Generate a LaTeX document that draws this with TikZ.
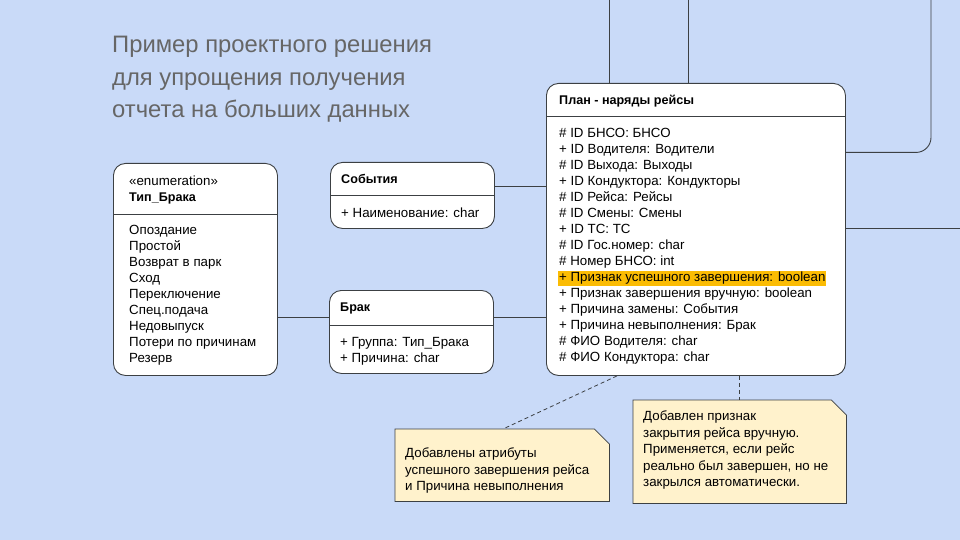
\documentclass[tikz,border=0pt]{standalone}
\usepackage{fontspec}
\setmainfont{Liberation Sans}
\usetikzlibrary{positioning, backgrounds}

\definecolor{bgblue}{HTML}{C9DAF8}
\definecolor{linegray}{HTML}{3C4043}
\definecolor{notefill}{HTML}{FFF2CC}
\definecolor{hilite}{HTML}{FBBC04}
\definecolor{titlegray}{HTML}{666666}

\tikzset{
  umlbox/.style={draw=linegray, fill=white, line width=0.9pt, rounded corners=12pt,
    anchor=north west, inner sep=0pt},
  boxhead/.style={font=\fontsize{12.6}{16}\selectfont\bfseries, anchor=west, inner sep=0pt,
    text height=9pt, text depth=2.5pt},
  boxtext/.style={font=\fontsize{13.3}{16}\selectfont, align=left, anchor=north west, inner sep=0pt},
  link/.style={draw=linegray, line width=0.9pt},
  notelink/.style={draw=linegray, line width=0.8pt, dash pattern=on 4pt off 3pt},
  noteshape/.style={fill=notefill, draw=linegray, line width=0.8pt},
  notetext/.style={anchor=north west, inner sep=0pt, align=left,
    font=\fontsize{13.3}{16.5}\selectfont},
}

\begin{document}
\begin{tikzpicture}[x=1pt, y=-1pt]
  \useasboundingbox (0,0) rectangle (960,540);
  \begin{scope}[on background layer]
    \fill[bgblue] (0,0) rectangle (960,540);
  \end{scope}

  % title
  \node[anchor=north west, inner sep=0pt, align=left, text=titlegray,
        font=\fontsize{23.8}{32.5}\selectfont] (title) at (112,36)
    {Пример проектного решения\\для упрощения получения\\отчета на больших данных};

  % classes
  \node[umlbox, minimum width=164pt, minimum height=212pt] (tip) at (113,163) {};
  \node[umlbox, minimum width=164pt, minimum height=66pt] (sob) at (330,162) {};
  \node[umlbox, minimum width=164pt, minimum height=83pt] (brak) at (329,290) {};
  \node[umlbox, minimum width=299pt, minimum height=292pt] (plan) at (546,83) {};

  \draw[link] ([yshift=-51pt]tip.north west) -- ([yshift=-51pt]tip.north east);
  \draw[link] ([yshift=-33pt]sob.north west) -- ([yshift=-33pt]sob.north east);
  \draw[link] ([yshift=-35pt]brak.north west) -- ([yshift=-35pt]brak.north east);
  \draw[link] ([yshift=-33pt]plan.north west) -- ([yshift=-33pt]plan.north east);

  \node[boxtext, below right=13pt and 16pt of tip.north west] (tiphead)
    {«enumeration»\\\textbf{\fontsize{12.6}{16}\selectfont Тип\_Брака}};
  \node[boxtext, below right=62pt and 16pt of tip.north west] (tipbody)
    {Опоздание\\Простой\\Возврат в парк\\Сход\\Переключение\\Спец.подача\\Недовыпуск\\Потери по причинам\\Резерв};

  \node[boxhead] (sobhead) at ([shift={(11pt,-18pt)}]sob.north west) {События};
  \node[boxtext, below right=46pt and 11pt of sob.north west] (sobbody)
    {+ Наименование: char};

  \node[boxhead] (brakhead) at ([shift={(11pt,-18pt)}]brak.north west) {Брак};
  \node[boxtext, below right=47pt and 11pt of brak.north west] (brakbody)
    {+ Группа: Тип\_Брака\\+ Причина: char};

  \node[boxhead] (planhead) at ([shift={(13pt,-18pt)}]plan.north west) {План - наряды рейсы};
  \node[boxtext, below right=45.5pt and 13pt of plan.north west] (planbody)
    {\# ID БНСО: БНСО\\
     + ID Водителя: Водители\\
     \# ID Выхода: Выходы\\
     + ID Кондуктора: Кондукторы\\
     \# ID Рейса: Рейсы\\
     \# ID Смены: Смены\\
     + ID ТС: ТС\\
     \# ID Гос.номер: char\\
     \# Номер БНСО: int\\
     \hspace*{-1pt}{\setlength\fboxsep{1pt}\colorbox{hilite}{+ Признак успешного завершения: boolean}}\\
     + Признак завершения вручную: boolean\\
     + Причина замены: События\\
     + Причина невыполнения: Брак\\
     \# ФИО Водителя: char\\
     \# ФИО Кондуктора: char};

  % associations
  \coordinate (brakjoin) at ([yshift=15pt]brak.west);
  \coordinate (sobjoin) at ([yshift=9pt]sob.east);
  \draw[link] (tip.east |- brakjoin) -- (brakjoin);
  \draw[link] (brak.east |- brakjoin) -- (plan.west |- brakjoin);
  \draw[link] (sobjoin) -- (plan.west |- sobjoin);

  \coordinate (topA) at (609,0);
  \coordinate (topB) at (688,0);
  \coordinate (topC) at (931,0);
  \coordinate (rightD) at (960,228);
  \draw[link] (plan.north -| topA) -- (topA);
  \draw[link] (plan.north -| topB) -- (topB);
  \draw[link, rounded corners=15pt] ([yshift=77pt]plan.east) -| (topC);
  \draw[link] (plan.east |- rightD) -- (rightD);

  % notes
  \node[anchor=north west, minimum width=214pt, minimum height=72pt, inner sep=0pt] (note1) at (395,429) {};
  \node[anchor=north west, minimum width=213pt, minimum height=103pt, inner sep=0pt] (note2) at (633,400) {};
  \begin{scope}[on background layer]
    \foreach \n in {note1, note2}
      \draw[noteshape] (\n.north west) -- ([xshift=-15pt]\n.north east)
        -- ([yshift=-15pt]\n.north east) -- (\n.south east) -- (\n.south west) -- cycle;
  \end{scope}
  \node[notetext, below right=19pt and 10pt of note1.north west] (note1text)
    {Добавлены атрибуты\\успешного завершения рейса\\и Причина невыполнения};
  \node[notetext, below right=11pt and 10pt of note2.north west] (note2text)
    {Добавлен признак\\закрытия рейса вручную.\\Применяется, если рейс\\реально был завершен, но не\\закрылся автоматически.};

  \draw[notelink] ([xshift=71pt]plan.south west) -- ([xshift=108pt]note1.north west);
  \draw[notelink] (plan.south -| note2.north) -- (note2.north);
\end{tikzpicture}
\end{document}
